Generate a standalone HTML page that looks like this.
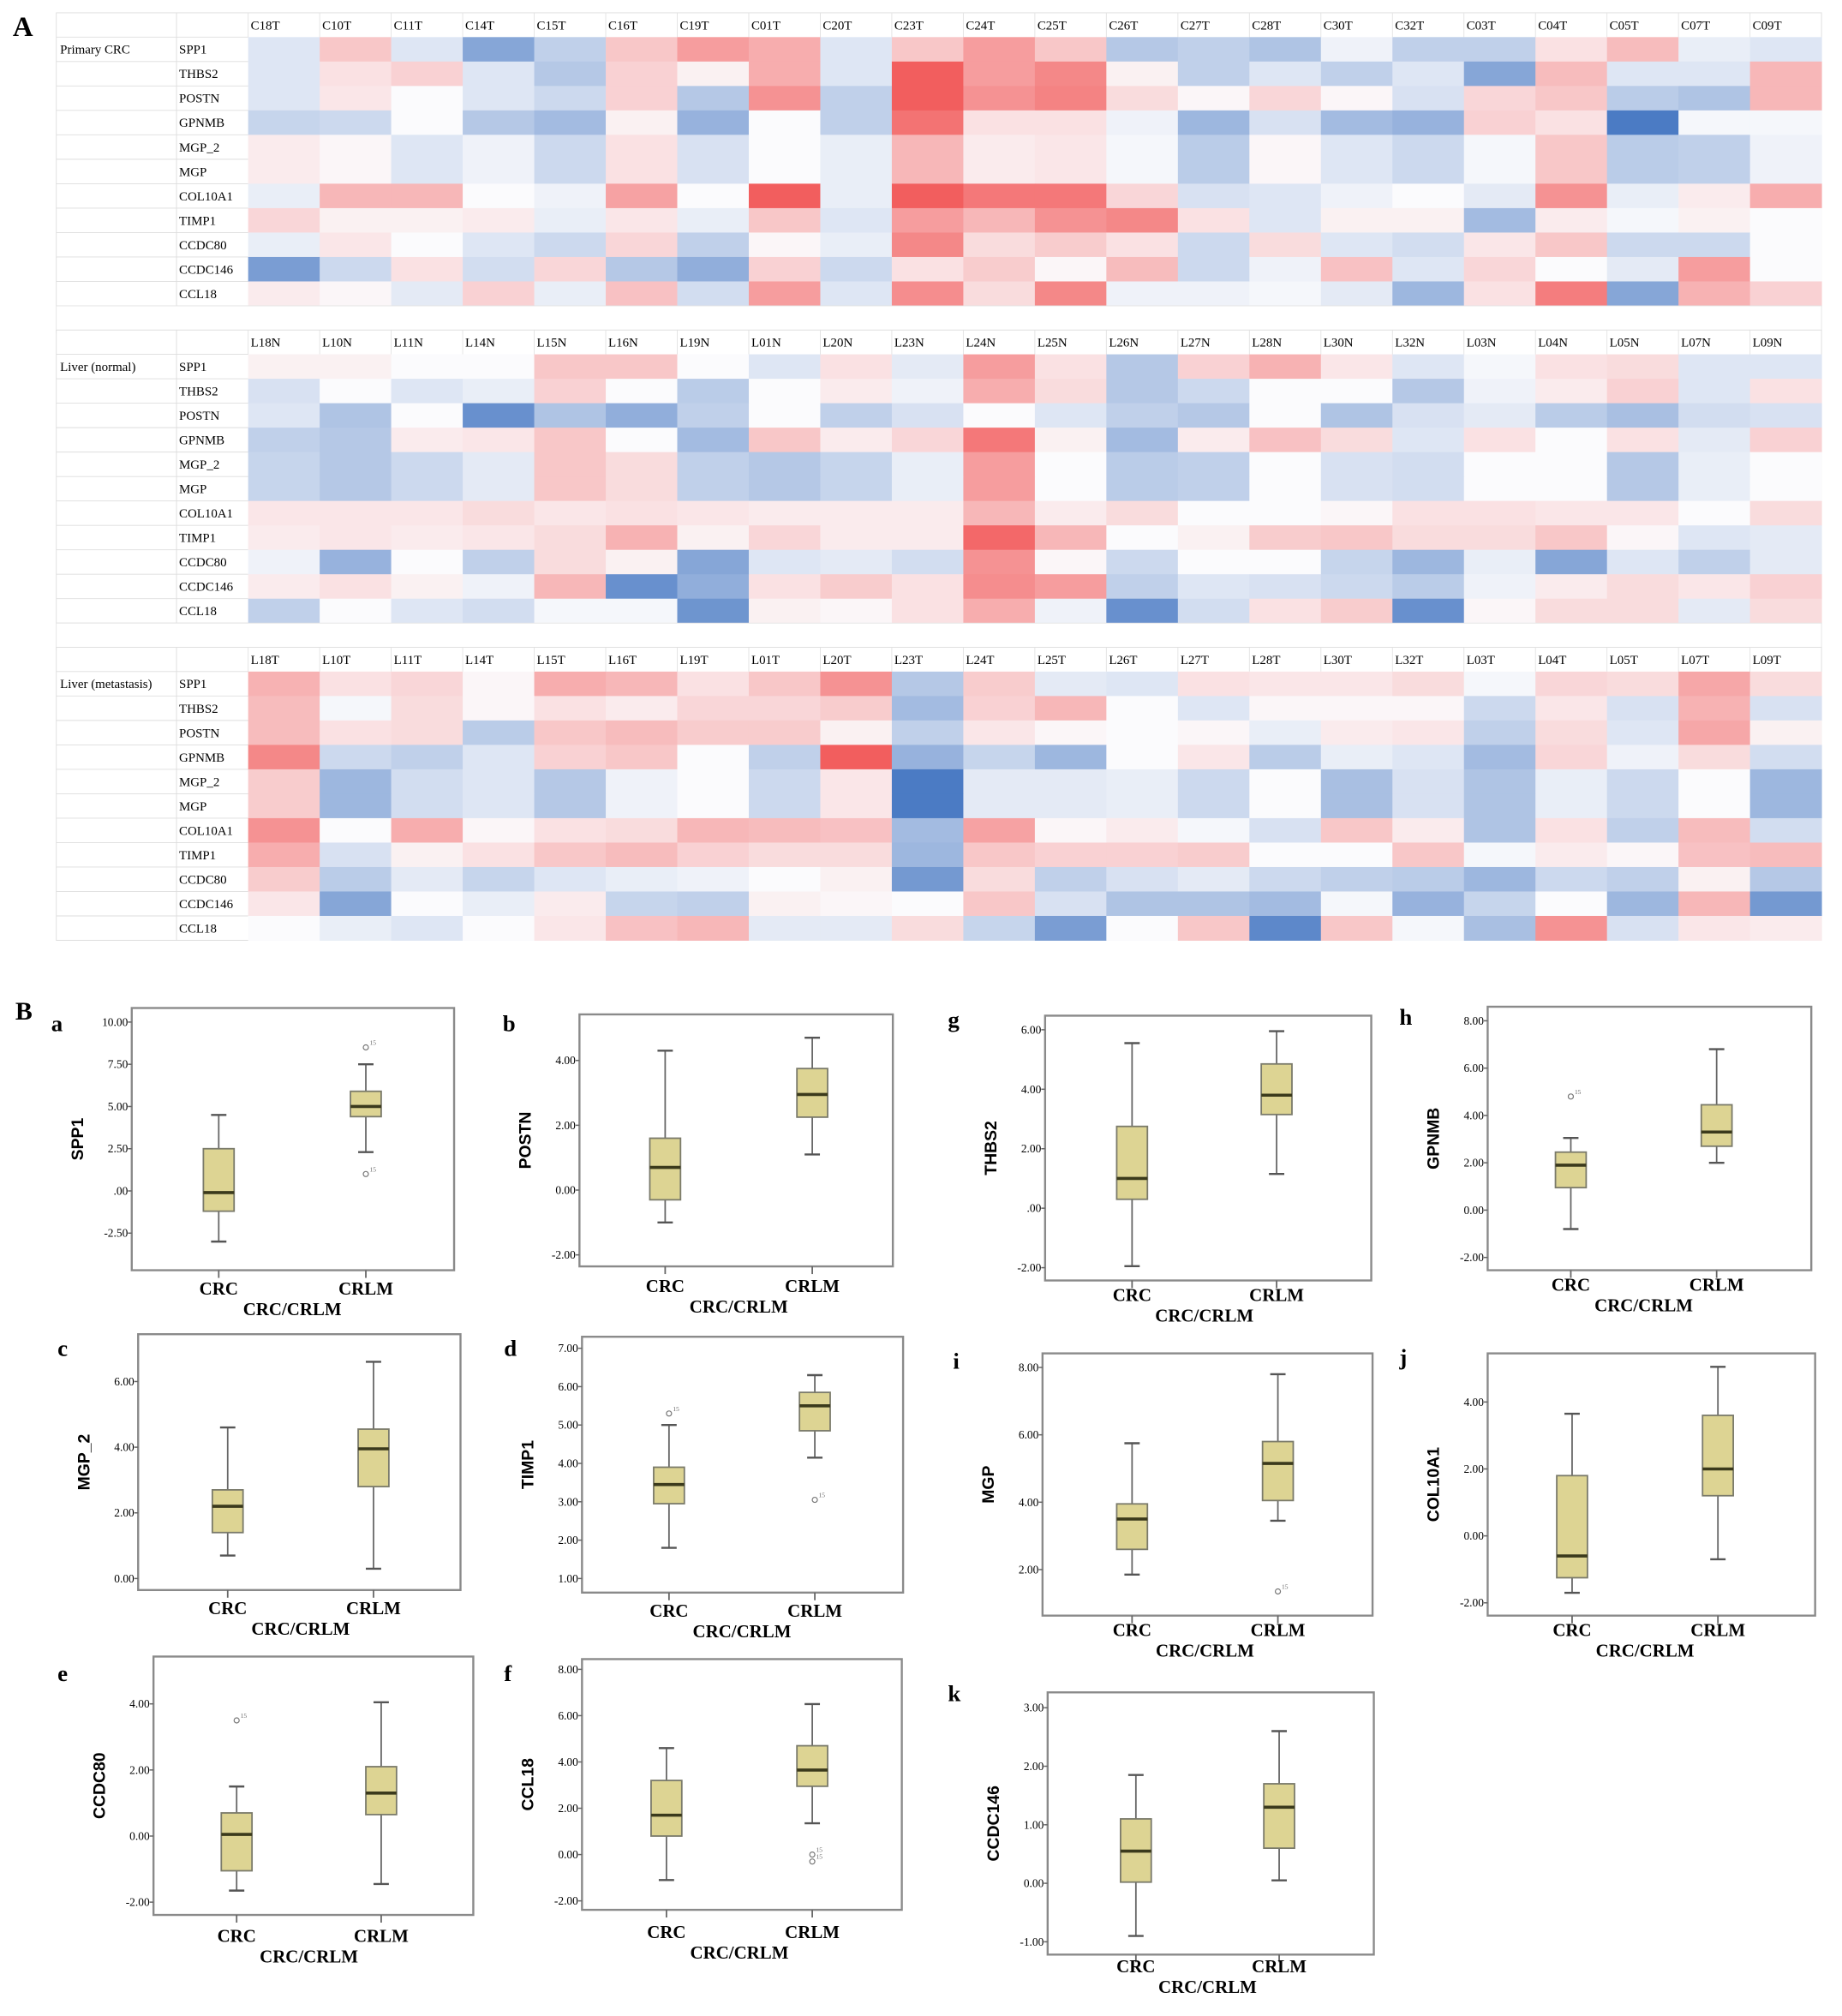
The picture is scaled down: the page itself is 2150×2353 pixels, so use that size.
<!DOCTYPE html>
<html><head><meta charset="utf-8"><style>
html,body{margin:0;padding:0;background:#fff;}
svg{display:block;}
</style></head><body>
<svg id="fig" xmlns="http://www.w3.org/2000/svg" width="2150" height="2353" viewBox="0 0 1440 1576" preserveAspectRatio="none" font-family="'Liberation Serif', serif"></svg>
<script>
const genes = ["SPP1","THBS2","POSTN","GPNMB","MGP_2","MGP","COL10A1","TIMP1","CCDC80","CCDC146","CCL18"];
const colsCRC = ["C18T","C10T","C11T","C14T","C15T","C16T","C19T","C01T","C20T","C23T","C24T","C25T","C26T","C27T","C28T","C30T","C32T","C03T","C04T","C05T","C07T","C09T"];
const colsLN = ["L18N","L10N","L11N","L14N","L15N","L16N","L19N","L01N","L20N","L23N","L24N","L25N","L26N","L27N","L28N","L30N","L32N","L03N","L04N","L05N","L07N","L09N"];
const colsLT = ["L18T","L10T","L11T","L14T","L15T","L16T","L19T","L01T","L20T","L23T","L24T","L25T","L26T","L27T","L28T","L30T","L32T","L03T","L04T","L05T","L07T","L09T"];
const valsCRC = [
[-0.5,1,-0.5,-2,-1,1,1.8,1.5,-0.5,1,1.8,1,-1.2,-1,-1.3,-0.2,-1,-1,0.5,1.2,-0.3,-0.5],
[-0.5,0.5,0.8,-0.5,-1.2,0.8,0.2,1.5,-0.5,3,1.8,2.2,0.2,-1,-0.5,-1,-0.5,-2,1.2,-0.5,-0.5,1.3],
[-0.5,0.4,0,-0.5,-0.8,0.8,-1.2,2,-1,3,2,2.3,0.6,0.1,0.7,0.1,-0.6,0.7,1,-1.1,-1.3,1.3],
[-0.9,-0.8,0,-1.2,-1.5,0.2,-1.7,0,-1,2.6,0.5,0.5,-0.2,-1.6,-0.6,-1.5,-1.7,0.8,0.5,-3,-0.1,-0.1],
[0.3,0.1,-0.5,-0.2,-0.8,0.5,-0.6,0,-0.3,1.3,0.3,0.4,-0.1,-1.1,0.1,-0.5,-0.8,-0.1,1,-1.1,-1,-0.2],
[0.3,0.1,-0.5,-0.2,-0.8,0.5,-0.6,0,-0.3,1.3,0.3,0.4,-0.1,-1.1,0.1,-0.5,-0.8,-0.1,1,-1.1,-1,-0.2],
[-0.3,1.3,1.3,0,-0.2,1.7,0,3,-0.3,3,2.5,2.5,0.7,-0.6,-0.5,-0.2,0,-0.4,2,-0.3,0.3,1.5],
[0.7,0.2,0.2,0.3,-0.3,0.4,-0.3,1,-0.5,1.8,1.3,2,2.2,0.5,-0.5,0.2,0.2,-1.5,0.3,-0.1,0.2,0],
[-0.3,0.4,0,-0.5,-0.8,0.7,-1,0.1,-0.3,2.2,0.6,0.9,0.5,-0.8,0.6,-0.5,-0.7,0.4,1,-0.8,-0.8,0],
[-2.2,-0.8,0.5,-0.7,0.7,-1.2,-1.8,0.8,-0.8,0.5,0.9,0.1,1.2,-0.8,-0.2,1.1,-0.5,0.7,0,-0.4,1.8,0],
[0.3,0.1,-0.4,0.8,-0.3,1.1,-0.7,1.8,-0.5,2.1,0.6,2.2,-0.2,-0.2,-0.1,-0.4,-1.6,0.5,2.4,-2,1.4,0.8]];
const valsLN = [
[0.2,0.2,0,0,1,1,0,-0.5,0.5,-0.4,1.8,0.5,-1.2,0.8,1.4,0.4,-0.5,-0.1,0.5,0.6,-0.5,-0.5],
[-0.6,0,-0.5,-0.3,0.8,0,-1.1,0,0.3,-0.2,1.5,0.6,-1.2,-0.8,0,0,-1.2,-0.2,0.3,0.8,-0.5,0.5],
[-0.5,-1.3,0,-2.5,-1.3,-1.8,-1,0,-1,-0.6,0,-0.5,-1,-1.2,0,-1.3,-0.6,-0.4,-1.1,-1.4,-0.7,-0.6],
[-1,-1.2,0.3,0.4,1,0,-1.5,1,0.3,0.7,2.5,0.2,-1.5,0.3,1.1,0.6,-0.5,0.5,0,0.5,-0.4,0.8],
[-0.9,-1.2,-0.8,-0.4,1,0.6,-1,-1.2,-0.9,-0.3,1.8,0,-1.1,-1,0,-0.6,-0.7,0,0,-1.2,-0.3,0],
[-0.9,-1.2,-0.8,-0.4,1,0.6,-1,-1.2,-0.9,-0.3,1.8,0,-1.1,-1,0,-0.6,-0.7,0,0,-1.2,-0.3,0],
[0.4,0.4,0.4,0.6,0.4,0.5,0.4,0.3,0.3,0.3,1.3,0.3,0.6,0,0,0.1,0.5,0.5,0.4,0.4,0,0.6],
[0.3,0.4,0.3,0.4,0.6,1.4,0.2,0.7,0.3,0.3,2.8,1.3,0,0.2,0.9,1,0.6,0.6,1,0.1,-0.5,-0.4],
[-0.2,-1.7,0,-1,0.6,0.2,-2,-0.5,-0.4,-0.7,2,0.1,-0.8,0,0,-0.9,-1.6,-0.3,-2,-0.5,-1,-0.4],
[0.3,0.5,0.2,-0.2,1.3,-2.5,-1.8,0.5,0.9,0.5,2.1,1.8,-1,-0.5,-0.6,-0.8,-1.1,-0.2,0.3,0.6,0.4,0.8],
[-1,0,-0.5,-0.7,-0.1,-0.1,-2.4,0.2,0.1,0.5,1.5,-0.2,-2.5,-0.7,0.5,0.9,-2.5,0.1,0.6,0.6,-0.4,0.6]];
const valsLT = [
[1.4,0.5,0.7,0.1,1.5,1.3,0.5,1,2,-1.2,0.9,-0.4,-0.5,0.5,0.4,0.4,0.6,-0.1,0.7,0.6,1.6,0.6],
[1.2,-0.1,0.6,0.1,0.5,0.3,0.7,0.7,0.9,-1.5,0.8,1.3,0,-0.5,0.1,0.1,0.1,-0.8,0.4,-0.6,1.4,-0.6],
[1.2,0.5,0.6,-1.1,1,1.2,0.9,0.9,0.2,-1,0.4,0.1,0,0.1,-0.3,0.3,0.4,-1,0.6,-0.5,1.6,0.2],
[2.2,-0.8,-1,-0.5,0.8,1,0,-1,3,-1.7,-0.9,-1.6,0,0.4,-1.1,-0.3,-0.5,-1.5,0.7,-0.2,0.6,-0.7],
[0.9,-1.6,-0.7,-0.5,-1.2,-0.2,0,-0.8,0.4,-3,-0.4,-0.4,-0.3,-0.8,0,-1.4,-0.6,-1.3,-0.3,-0.8,0,-1.6],
[0.9,-1.6,-0.7,-0.5,-1.2,-0.2,0,-0.8,0.4,-3,-0.4,-0.4,-0.3,-0.8,0,-1.4,-0.6,-1.3,-0.3,-0.8,0,-1.6],
[2,0,1.5,0.1,0.5,0.6,1.3,1.2,1.1,-1.5,1.7,0.1,0.3,-0.1,-0.6,1,0.3,-1.3,0.5,-1,1.2,-0.7],
[1.5,-0.6,0.2,0.5,1,1.2,0.8,0.6,0.6,-1.6,1,0.8,0.8,0.9,0,0,1,-0.1,0.3,0.1,1.1,1.2],
[0.9,-1.1,-0.4,-0.9,-0.5,-0.3,-0.2,0,0.2,-2.3,0.6,-1,-0.6,-0.4,-0.8,-1,-1.1,-1.6,-0.8,-1,0.2,-1.2],
[0.4,-2,0,-0.3,0.3,-0.9,-1,0.2,0.1,0,1,-0.6,-1.3,-1.3,-1.5,-0.1,-1.7,-0.9,0,-1.6,1.3,-2.3],
[0,-0.3,-0.5,0,0.4,1.1,1.3,-0.4,-0.4,0.6,-0.9,-2.2,0,1,-2.7,1,-0.1,-1.4,2,-0.6,0.4,0.3]];

// boxplot data: [max, q3, median, q1, min]
const boxNames = ["SPP1","POSTN","THBS2","GPNMB","MGP_2","TIMP1","MGP","COL10A1","CCDC80","CCL18","CCDC146"];
const boxLetters = ["a","b","g","h","c","d","i","j","e","f","k"];
const crcStats = [[4.5,2.5,-0.1,-1.2,-3.0],[4.3,1.6,0.7,-0.3,-1.0],[5.55,2.75,1.0,0.3,-1.95],[3.05,2.45,1.9,0.95,-0.8],[4.6,2.7,2.2,1.4,0.7],[5.0,3.9,3.45,2.95,1.8],[5.75,3.95,3.5,2.6,1.85],[3.65,1.8,-0.6,-1.25,-1.7],[1.5,0.7,0.05,-1.05,-1.65],[4.6,3.2,1.7,0.8,-1.1],[1.85,1.1,0.55,0.02,-0.9]];
const crlmStats = [[7.5,5.9,5.0,4.4,2.3],[4.7,3.75,2.95,2.25,1.1],[5.95,4.85,3.8,3.15,1.15],[6.8,4.45,3.3,2.7,2.0],[6.6,4.55,3.95,2.8,0.3],[6.3,5.85,5.5,4.85,4.15],[7.8,5.8,5.15,4.05,3.45],[5.05,3.6,2.0,1.2,-0.7],[4.05,2.1,1.3,0.65,-1.45],[6.5,4.7,3.65,2.95,1.35],[2.6,1.7,1.3,0.6,0.05]];
const crcOutliers = [[],[],[],[4.8],[],[5.3],[],[],[3.5],[],[]];
const crlmOutliers = [[8.5,1.0],[],[],[],[],[3.05],[1.35],[],[],[0.0,-0.3],[]];
const tickLabels = [
["10.00","7.50","5.00","2.50",".00","-2.50"],
["4.00","2.00","0.00","-2.00"],
["6.00","4.00","2.00",".00","-2.00"],
["8.00","6.00","4.00","2.00","0.00","-2.00"],
["6.00","4.00","2.00","0.00"],
["7.00","6.00","5.00","4.00","3.00","2.00","1.00"],
["8.00","6.00","4.00","2.00"],
["4.00","2.00","0.00","-2.00"],
["4.00","2.00","0.00","-2.00"],
["8.00","6.00","4.00","2.00","0.00","-2.00"],
["3.00","2.00","1.00","0.00","-1.00"]];

// layout (non-data)
const layout = [
{f:[103,788,355,993],tv:10,ty:799,bv:-2.5,by:964,cx:171,mx:286,ly:1007,lp:[40,806]},
{f:[453,793,698,990],tv:4,ty:829,bv:-2,by:981,cx:520,mx:635,ly:1005,lp:[393,806]},
{f:[817,794,1072,1001],tv:6,ty:805,bv:-2,by:991,cx:885,mx:998,ly:1012,lp:[741,803]},
{f:[1163,787,1416,993],tv:8,ty:798,bv:-2,by:983,cx:1228,mx:1342,ly:1004,lp:[1094,801]},
{f:[108,1043,360,1243],tv:6,ty:1080,bv:0,by:1234,cx:178,mx:292,ly:1257,lp:[45,1060]},
{f:[455,1045,706,1245],tv:7,ty:1054,bv:1,by:1234,cx:523,mx:637,ly:1259,lp:[394,1060]},
{f:[815,1058,1073,1263],tv:8,ty:1069,bv:2,by:1227,cx:885,mx:999,ly:1274,lp:[745,1070]},
{f:[1163,1058,1419,1263],tv:4,ty:1096,bv:-2,by:1253,cx:1229,mx:1343,ly:1274,lp:[1094,1067]},
{f:[120,1295,370,1497],tv:4,ty:1332,bv:-2,by:1487,cx:185,mx:298,ly:1513,lp:[45,1314]},
{f:[455,1297,705,1493],tv:8,ty:1305,bv:-2,by:1486,cx:521,mx:635,ly:1510,lp:[394,1314]},
{f:[819,1323,1074,1528],tv:3,ty:1335,bv:-1,by:1518,cx:888,mx:1000,ly:1537,lp:[741,1330]}];

const NS = "http://www.w3.org/2000/svg";
const svg = document.getElementById("fig");
function mk(tag, attrs, parent){const e=document.createElementNS(NS,tag);for(const k in attrs)e.setAttribute(k,attrs[k]);(parent||svg).appendChild(e);return e;}
function txt(s, attrs, parent){const e=mk("text",attrs,parent);e.textContent=s;return e;}

function heatColor(v){
  const w=[251,251,253];
  const r=[242,94,94], b=[75,123,196];
  const t=Math.min(Math.abs(v)/3,1);
  const c=v>=0?r:b;
  const m=w.map((x,i)=>Math.round(x+(c[i]-x)*t));
  return "rgb("+m.join(",")+")";
}

const X0=194, CW=(1424-194)/22, RH=19.1;
const blocks=[{name:"Primary CRC",cols:colsCRC,vals:valsCRC,hy:10,ry:29},{name:"Liver (normal)",cols:colsLN,vals:valsLN,hy:258,ry:277},{name:"Liver (metastasis)",cols:colsLT,vals:valsLT,hy:506,ry:525}];
const hm=mk("g",{});


txt("A",{x:10,y:28,"font-size":22,"font-weight":"bold"});
blocks.forEach((bl,bi)=>{
  const g=mk("g",{},hm);
  
  
  mk("rect",{x:44,y:bl.hy,width:1380,height:bl.ry-bl.hy+11*RH,fill:"#fff",stroke:"#ddd","stroke-width":0.6},g);
  for(let c=0;c<=22;c++){mk("line",{x1:X0+c*CW,y1:bl.hy,x2:X0+c*CW,y2:bl.ry,stroke:"#e2e2e2","stroke-width":0.6},g);}
  mk("line",{x1:138,y1:bl.hy,x2:138,y2:bl.ry+11*RH,stroke:"#ddd","stroke-width":0.6},g);
  for(let r=0;r<=11;r++){mk("line",{x1:44,y1:bl.ry+r*RH,x2:X0,y2:bl.ry+r*RH,stroke:"#ddd","stroke-width":0.6},g);}
  bl.cols.forEach((cn,c)=>{
    const t=txt(cn,{x:X0+c*CW+2,y:bl.hy+13,"font-size":10},g);
    
    
  });
  const bt=txt(bl.name,{x:47,y:bl.ry+13,"font-size":10},g);
  
  
  genes.forEach((gn,r)=>{
    const t=txt(gn,{x:140,y:bl.ry+r*RH+13,"font-size":10},g);
    
    
    bl.vals[r].forEach((v,c)=>{
      const cell=mk("rect",{x:X0+c*CW,y:bl.ry+r*RH,width:CW+0.3,height:RH+0.3,fill:heatColor(v)},g);
      
      
    });
  });
  if(bi<2){mk("rect",{x:44,y:bl.ry+11*RH,width:1380,height:bl.hy+248-(bl.ry+11*RH)+2,fill:"#fff",stroke:"#e4e4e4","stroke-width":0.6},g);}
});

txt("B",{x:12,y:797,"font-size":20,"font-weight":"bold"});
boxNames.forEach((nm,i)=>{
  const L=layout[i];
  const g=mk("g",{});
  
  
  const [x0,y0,x1,y1]=L.f;
  const ys=v=>L.by+(v-L.bv)*(L.ty-L.by)/(L.tv-L.bv);
  const fr=mk("rect",{x:x0,y:y0,width:x1-x0,height:y1-y0,fill:"#fff",stroke:"#8a8a8a","stroke-width":1.6},g);
  
  
  const lt=txt(boxLetters[i],{x:L.lp[0],y:L.lp[1],"font-size":18,"font-weight":"bold"},g);
  
  
  tickLabels[i].forEach((s)=>{
    const v=parseFloat(s);
    const y=ys(v);
    mk("line",{x1:x0-3,y1:y,x2:x0,y2:y,stroke:"#666","stroke-width":1},g);
    const t=txt(s,{x:x0-3,y:y+3,"font-size":9,"text-anchor":"end"},g);
    
    
  });
  const yc=(y0+y1)/2;
  const yt=txt(nm,{x:x0-38,y:yc,"font-size":13,"font-weight":"bold","font-family":"'Liberation Sans', sans-serif","text-anchor":"middle",transform:"rotate(-90 "+(x0-38)+" "+yc+")"},g);
  
  
  [[L.cx,"CRC",crcStats[i],crcOutliers[i]],[L.mx,"CRLM",crlmStats[i],crlmOutliers[i]]].forEach(([cx,lab,st,outs])=>{
    mk("line",{x1:cx,y1:y1,x2:cx,y2:y1+6,stroke:"#666","stroke-width":1.2},g);
    const xl=txt(lab,{x:cx,y:L.ly+5,"font-size":14,"font-weight":"bold","text-anchor":"middle"},g);
    
    
    const [mx,q3,md,q1,mn]=st;
    const bw=12;
    mk("line",{x1:cx,y1:ys(mx),x2:cx,y2:ys(q3),stroke:"#666","stroke-width":1.2},g);
    mk("line",{x1:cx,y1:ys(q1),x2:cx,y2:ys(mn),stroke:"#666","stroke-width":1.2},g);
    mk("line",{x1:cx-6,y1:ys(mx),x2:cx+6,y2:ys(mx),stroke:"#555","stroke-width":1.6},g);
    mk("line",{x1:cx-6,y1:ys(mn),x2:cx+6,y2:ys(mn),stroke:"#555","stroke-width":1.6},g);
    const bx=mk("rect",{x:cx-bw,y:ys(q3),width:2*bw,height:ys(q1)-ys(q3),fill:"#ddd493",stroke:"#7a7a6a","stroke-width":1.2},g);
    
    
    const me=mk("line",{x1:cx-bw,y1:ys(md),x2:cx+bw,y2:ys(md),stroke:"#3b3a1c","stroke-width":2.4},g);
    
    
    outs.forEach(o=>{
      const c=mk("circle",{cx:cx,cy:ys(o),r:2,fill:"none",stroke:"#777","stroke-width":0.8},g);
      
      
      txt("15",{x:cx+3,y:ys(o)-2,"font-size":5,fill:"#666"},g);
    });
  });
  const xt=txt("CRC/CRLM",{x:(L.cx+L.mx)/2,y:L.ly+21,"font-size":14,"font-weight":"bold","text-anchor":"middle"},g);
  
  
});
</script>
</body></html>
